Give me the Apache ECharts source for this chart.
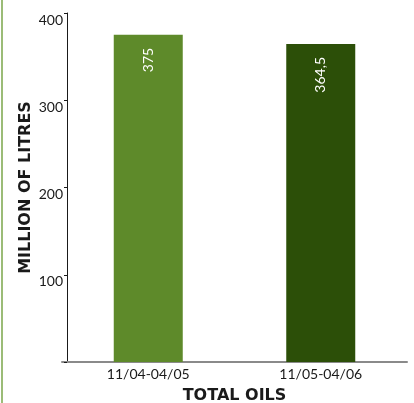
<!DOCTYPE html>
<html><head><meta charset="utf-8">
<script src="https://cdn.jsdelivr.net/npm/echarts@6/dist/echarts.min.js"></script>
<style>html,body{margin:0;padding:0;background:#fff}#c{width:414px;height:403px}</style>
</head><body><div id="c"></div>
<script>
const categories = ['11/04-04/05', '11/05-04/06'];
const values = [375, 364.5];
const valueLabels = ['375', '364,5'];
const barColors = ['#5e8a2a', '#2c4f08'];
const yTicks = [0, 100, 200, 300, 400];

const chart = echarts.init(document.getElementById('c'));
const font = 'Lato, "Open Sans", sans-serif';
const nameFont = '"DejaVu Sans", sans-serif';
chart.setOption({
  animation: false,
  textStyle: { fontFamily: font },
  grid: { left: 62, right: 7, top: 13, bottom: 41, outerBoundsMode: 'none', containLabel: false },
  graphic: [{
    type: 'line', shape: { x1: 2, y1: 0, x2: 2, y2: 403 },
    style: { stroke: '#7aa64a', lineWidth: 1.5 }
  }],
  xAxis: {
    type: 'category', data: categories,
    name: 'TOTAL OILS', nameLocation: 'middle', nameGap: 26,
    nameTextStyle: { fontWeight: 'bold', fontSize: 16, color: '#1a1a1a', fontFamily: nameFont },
    axisLine: { lineStyle: { color: '#8a8a8a', width: 2 } },
    axisTick: { show: false },
    axisLabel: { color: '#1a1a1a', fontSize: 14, margin: 5, fontFamily: font }
  },
  yAxis: {
    type: 'value', min: yTicks[0], max: yTicks[yTicks.length - 1], interval: 100,
    offset: -5,
    name: 'MILLION OF LITRES', nameLocation: 'middle', nameGap: 33, nameMoveOverlap: false,
    nameTextStyle: { fontWeight: 'bold', fontSize: 16, color: '#1a1a1a', fontFamily: nameFont },
    axisLine: { show: true, lineStyle: { color: '#1a1a1a', width: 1 } },
    axisTick: { show: true, length: 3, lineStyle: { color: '#1a1a1a' } },
    splitLine: { show: false },
    axisLabel: {
      color: '#1a1a1a', fontSize: 14, margin: 4, verticalAlign: 'top', fontFamily: font,
      formatter: v => v === 0 ? '' : String(v)
    }
  },
  series: [{
    type: 'bar', barWidth: 69,
    data: values.map((v, i) => ({ value: v, itemStyle: { color: barColors[i] } })),
    label: {
      show: true, position: 'insideTop', distance: 13, rotate: 90,
      align: 'right', verticalAlign: 'middle',
      color: '#fff', fontSize: 14, fontFamily: font,
      formatter: p => valueLabels[p.dataIndex]
    }
  }]
});
</script></body></html>
